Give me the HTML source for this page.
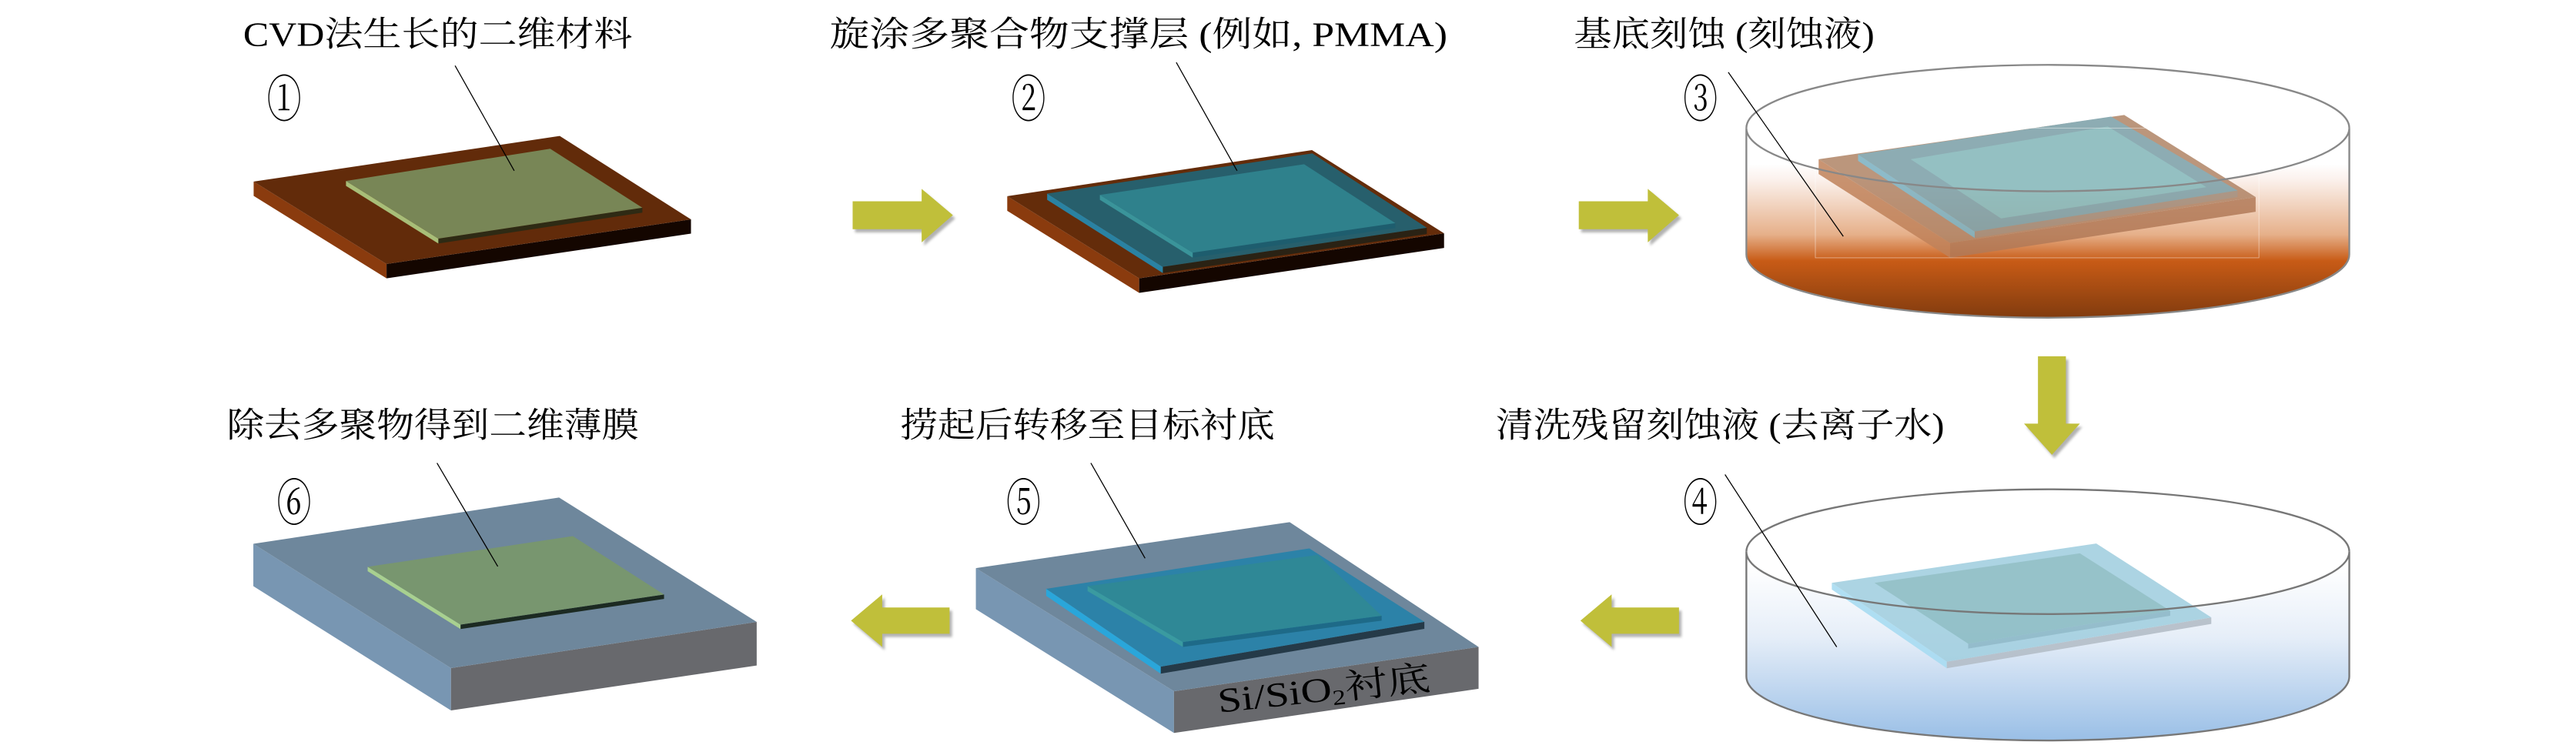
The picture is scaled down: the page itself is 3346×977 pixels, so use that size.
<!DOCTYPE html>
<html><head><meta charset="utf-8"><style>
html,body{margin:0;padding:0;background:#fff;}
svg{display:block;}
text{font-family:"Liberation Serif","Noto Serif CJK SC","Noto Sans CJK SC",serif;fill:#000;}
</style></head><body>
<svg width="3346" height="977" viewBox="0 0 1568 458" preserveAspectRatio="none" xmlns="http://www.w3.org/2000/svg">
<defs>
<linearGradient id="liq3" gradientUnits="userSpaceOnUse" x1="0" y1="100" x2="0" y2="195">
<stop offset="0" stop-color="#ffffff"/>
<stop offset="0.1" stop-color="#fbf1ec"/>
<stop offset="0.45" stop-color="#e6b08a"/>
<stop offset="0.62" stop-color="#c85b16"/>
<stop offset="1" stop-color="#7e3a0e"/>
</linearGradient>
<linearGradient id="liq4" gradientUnits="userSpaceOnUse" x1="0" y1="345" x2="0" y2="452">
<stop offset="0" stop-color="#ffffff"/>
<stop offset="0.4" stop-color="#e6eef8"/>
<stop offset="1" stop-color="#98bee6"/>
</linearGradient>
<filter id="sh" x="-20%" y="-20%" width="150%" height="150%"><feGaussianBlur stdDeviation="0.8"/></filter>
</defs>

<!-- Labels -->
<text x="148" y="28" font-size="21" textLength="237" lengthAdjust="spacingAndGlyphs">CVD法生长的二维材料</text>
<text x="505" y="28" font-size="21" textLength="376" lengthAdjust="spacingAndGlyphs">旋涂多聚合物支撑层 (例如, PMMA)</text>
<text x="958" y="28" font-size="21" textLength="183" lengthAdjust="spacingAndGlyphs">基底刻蚀 (刻蚀液)</text>
<text x="910.5" y="266" font-size="21" textLength="273" lengthAdjust="spacingAndGlyphs">清洗残留刻蚀液 (去离子水)</text>
<text x="548" y="266" font-size="21" textLength="228" lengthAdjust="spacingAndGlyphs">捞起后转移至目标衬底</text>
<text x="138" y="266" font-size="21" textLength="251" lengthAdjust="spacingAndGlyphs">除去多聚物得到二维薄膜</text>

<!-- circled numbers -->
<text transform="translate(173,71) scale(1,1.45)" font-size="21" text-anchor="middle">①</text>
<text transform="translate(626,71) scale(1,1.45)" font-size="21" text-anchor="middle">②</text>
<text transform="translate(1035,71) scale(1,1.45)" font-size="21" text-anchor="middle">③</text>
<text transform="translate(1035,317) scale(1,1.45)" font-size="21" text-anchor="middle">④</text>
<text transform="translate(623,317) scale(1,1.45)" font-size="21" text-anchor="middle">⑤</text>
<text transform="translate(179,317) scale(1,1.45)" font-size="21" text-anchor="middle">⑥</text>

<!-- Panel 1 -->
<polygon points="154.4,110.6 235.3,160.8 235.3,169.5 154.4,119.3" fill="#8a3b0e"/>
<polygon points="235.3,160.8 420.6,133.6 420.6,142.3 235.3,169.5" fill="#140600"/>
<polygon points="154.4,110.6 340.7,82.8 420.6,133.6 235.3,160.8" fill="#622b0a"/>
<polygon points="266.8,145.3 391,126.5 391,129.5 266.8,148.3" fill="#2e2a14"/>
<polygon points="210.6,110.2 266.8,145.3 266.8,148.3 210.6,113.2" fill="#a8be78"/>
<polygon points="210.6,110.2 334.9,90.6 391,126.5 266.8,145.3" fill="#788656"/>
<line x1="277" y1="40" x2="313" y2="104" stroke="#000" stroke-width="0.6"/>

<!-- Panel 2 -->
<polygon points="613.1,119.5 693.4,169.5 693.4,178.4 613.1,128.4" fill="#8a3b0e"/>
<polygon points="693.4,169.5 879,142.1 879,151 693.4,178.4" fill="#140600"/>
<polygon points="613.1,119.5 798.6,91.4 879,142.1 693.4,169.5" fill="#642c0a"/>
<polygon points="707.8,162.5 868.5,138.7 868.5,142.5 707.8,166.3" fill="#2a2214"/>
<polygon points="637.4,117.9 707.8,162.5 707.8,166.3 637.4,121.7" fill="#2a82a2"/>
<polygon points="637.4,117.9 798.8,93.4 868.5,138.7 707.8,162.5" fill="#275f6c"/>
<polygon points="726,153.9 849.3,135.9 849.3,138.9 726,156.9" fill="#1e5d6e"/>
<polygon points="669.5,118.7 726,153.9 726,156.9 669.5,121.7" fill="#3a949a"/>
<polygon points="669.5,118.7 793.8,100 849.3,135.9 726,153.9" fill="#2f818c"/>
<line x1="716" y1="38" x2="753" y2="104" stroke="#000" stroke-width="0.6"/>

<!-- Arrows -->
<g filter="url(#sh)" opacity="0.5" transform="translate(1.5,2)">
<path d="M519 122.6 H561 V115 L580 131 L561 147.6 V139.6 H519 Z" fill="#666"/>
<path d="M961 122.6 H1003 V115 L1022 131 L1003 147.6 V139.6 H961 Z" fill="#666"/>
<path d="M1022 370 H981 V362 L962 378 L981 394 V386 H1022 Z" fill="#666"/>
<path d="M578 370 H537 V362 L518 378 L537 394 V386 H578 Z" fill="#666"/>
<path d="M1240.5 217 H1257.5 V258 H1266 L1249 277 L1232 258 H1240.5 Z" fill="#666"/>
</g>
<path d="M519 122.6 H561 V115 L580 131 L561 147.6 V139.6 H519 Z" fill="#c0bf3a"/>
<path d="M961 122.6 H1003 V115 L1022 131 L1003 147.6 V139.6 H961 Z" fill="#c0bf3a"/>
<path d="M1022 370 H981 V362 L962 378 L981 394 V386 H1022 Z" fill="#c0bf3a"/>
<path d="M578 370 H537 V362 L518 378 L537 394 V386 H578 Z" fill="#c0bf3a"/>
<path d="M1240.5 217 H1257.5 V258 H1266 L1249 277 L1232 258 H1240.5 Z" fill="#c0bf3a"/>

<!-- Panel 3 dish -->
<path d="M1063 78 A183.5 38.5 0 0 0 1430 78 V155 A183.5 38.5 0 0 1 1063 155 Z" fill="url(#liq3)"/>
<path d="M1063 78 A183.5 38.5 0 0 1 1430 78" fill="none" stroke="#888" stroke-width="1.1"/>
<g opacity="0.85">
<polygon points="1107,97 1187,148 1187,157 1107,106" fill="#c0825a"/>
<polygon points="1187,148 1373,120 1373,129 1187,157" fill="#b27a58"/>
<polygon points="1107,97 1293,70 1373,120 1187,148" fill="#b08466"/>
<polygon points="1202,141 1362,116 1362,120 1202,145" fill="#a08a78"/>
<polygon points="1131,94 1202,141 1202,145 1131,98" fill="#7ab0c0"/>
<polygon points="1131,94 1285,71 1362,116 1202,141" fill="#7a9ea6"/>
<polygon points="1163,97 1283,77 1343,114 1218,133" fill="#82b6b8"/>
</g>
<rect x="1105" y="78" width="270" height="79" fill="none" stroke="#fff" stroke-opacity="0.5" stroke-width="0.4"/>
<path d="M1063 78 A183.5 38.5 0 0 0 1430 78 V155 A183.5 38.5 0 0 1 1063 155 Z" fill="none" stroke="#888" stroke-width="1.1"/>
<line x1="1052" y1="44" x2="1122" y2="144" stroke="#000" stroke-width="0.6"/>

<!-- Panel 4 dish -->
<path d="M1063 336 A183.5 38 0 0 0 1430 336 V412 A183.5 39 0 0 1 1063 412 Z" fill="url(#liq4)"/>
<path d="M1063 336 A183.5 38 0 0 1 1430 336" fill="none" stroke="#777" stroke-width="1.1"/>
<g opacity="0.9">
<polygon points="1115,355 1185,403 1185,407 1115,359" fill="#a8dcf2"/>
<polygon points="1185,403 1346,376 1346,380 1185,407" fill="#b4bec8"/>
<polygon points="1115,355 1276,331 1346,376 1185,403" fill="#a4d0e0"/>
<polygon points="1198,392 1321,372 1321,375 1198,395" fill="#8cb8c8"/>
<polygon points="1141,355 1266,337 1321,372 1198,392" fill="#8bbcc4"/>
</g>
<path d="M1063 336 A183.5 38 0 0 0 1430 336 V412 A183.5 39 0 0 1 1063 412 Z" fill="none" stroke="#777" stroke-width="1.1"/>
<line x1="1050" y1="289" x2="1118" y2="394" stroke="#000" stroke-width="0.6"/>

<!-- Panel 5 -->
<polygon points="594,346 714.6,421 714.6,446.4 594,371" fill="#7896b2"/>
<polygon points="714.6,421 900,394 900,419.5 714.6,446.4" fill="#68696d"/>
<polygon points="594,346 785,318 900,394 714.6,421" fill="#6e879c"/>
<polygon points="706.5,406 867,378.7 867,383 706.5,410.3" fill="#253a48"/>
<polygon points="636.8,358.6 706.5,406 706.5,410.3 636.8,362.9" fill="#2aa6da"/>
<polygon points="636.8,358.6 797,334 867,378.7 706.5,406" fill="#2c82a8"/>
<polygon points="720,391 841,375 841,378 720,394" fill="#1e6a88"/>
<polygon points="662,357 720,391 720,394 662,360" fill="#3a9aa0"/>
<polygon points="662,357 802,338 841,375 720,391" fill="#2f8896"/>
<line x1="664" y1="282" x2="697" y2="340" stroke="#000" stroke-width="0.6"/>
<text transform="translate(742,434) rotate(-6.2)" font-size="21" textLength="130" lengthAdjust="spacingAndGlyphs">Si/SiO<tspan font-size="13" dy="3">2</tspan><tspan dy="-3">衬底</tspan></text>

<!-- Panel 6 -->
<polygon points="154.2,331.2 274.5,406.9 274.5,432.7 154.2,357" fill="#7896b2"/>
<polygon points="274.5,406.9 460.6,378.8 460.6,405.3 274.5,432.7" fill="#68696d"/>
<polygon points="154.2,331.2 340.3,303 460.6,378.8 274.5,406.9" fill="#6e879c"/>
<polygon points="280.3,380.4 404.2,362.1 404.2,364.8 280.3,383.1" fill="#1c2a22"/>
<polygon points="223.8,345.2 280.3,380.4 280.3,383.1 223.8,347.9" fill="#a8d090"/>
<polygon points="223.8,345.2 348.7,326.5 404.2,362.1 280.3,380.4" fill="#78966f"/>
<line x1="266" y1="282" x2="303" y2="345" stroke="#000" stroke-width="0.6"/>
</svg>
</body></html>
